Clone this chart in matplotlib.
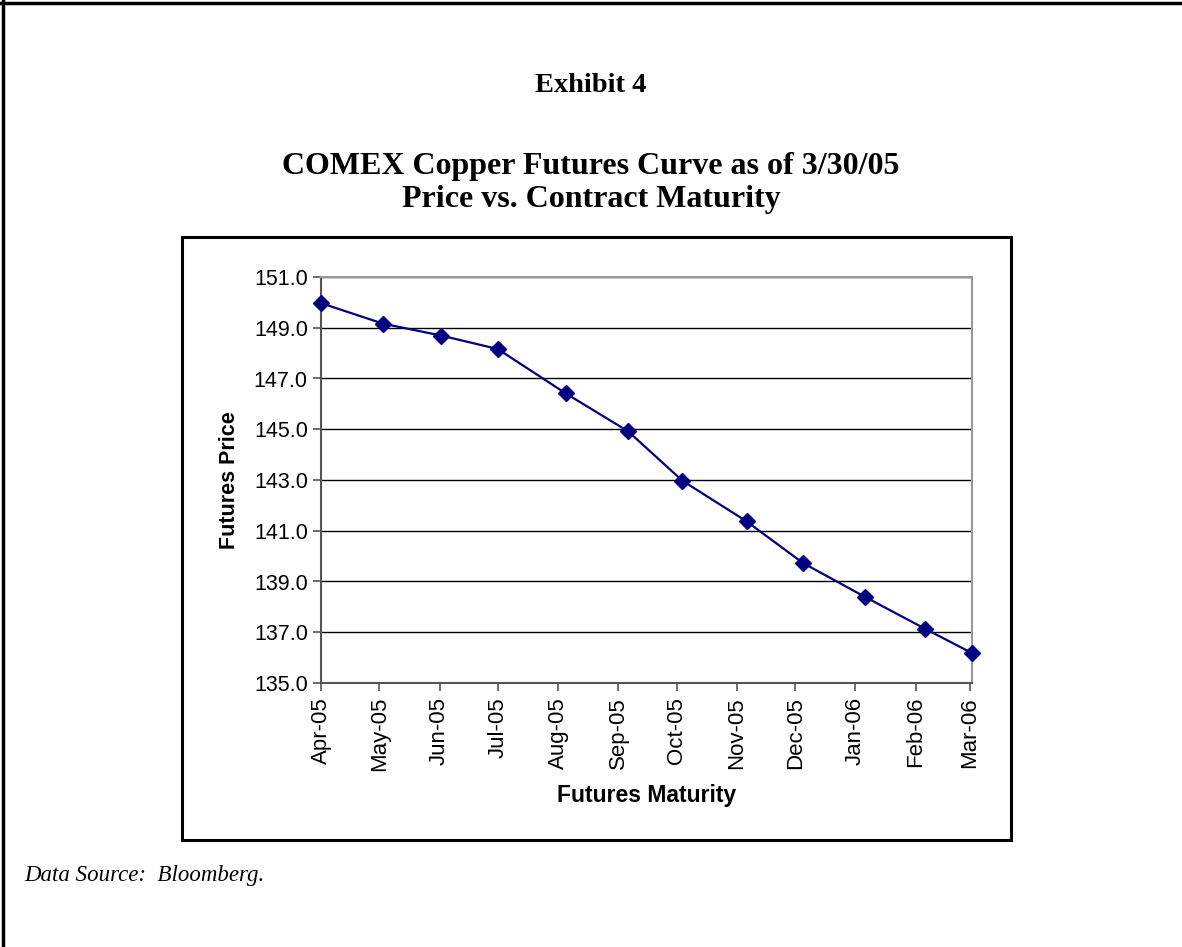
import matplotlib.pyplot as plt
import matplotlib.dates as mdates
from matplotlib.patches import Rectangle
from matplotlib.lines import Line2D
import numpy as np

# contract dates (as plotted on the date axis) and settlement prices
maturity_dates = np.array(['2005-04-01', '2005-05-03', '2005-06-02', '2005-07-01',
                           '2005-08-05', '2005-09-06', '2005-10-04', '2005-11-06',
                           '2005-12-05', '2006-01-06', '2006-02-06', '2006-03-02'],
                          dtype='datetime64[D]')
futures_price = [149.97, 149.16, 148.69, 148.16, 146.41, 144.92,
                 142.97, 141.37, 139.73, 138.39, 137.13, 136.18]
y_ticks = [135, 137, 139, 141, 143, 145, 147, 149, 151]

fig = plt.figure(figsize=(11.82, 9.47), dpi=100)

# page border (top & left only visible)
fig.add_artist(Line2D([0, 1], [1 - 3.5/947, 1 - 3.5/947], color='black', lw=2.5, transform=fig.transFigure))
fig.add_artist(Line2D([2.5/1182, 2.5/1182], [0, 1], color='black', lw=2.5, transform=fig.transFigure))

# chart box
fig.add_artist(Rectangle((182/1182, 1 - 840/947), (1011 - 182)/1182, (840 - 237)/947,
                         fill=False, edgecolor='black', lw=2.2, transform=fig.transFigure))

title_font = dict(ha='center', va='center', family='Liberation Serif', weight='bold')
fig.text(0.5, 1 - 86/947, "Exhibit 4", fontsize=20.5, **title_font)
fig.text(0.5, 1 - 166/947, "COMEX Copper Futures Curve as of 3/30/05", fontsize=23, **title_font)
fig.text(0.5, 1 - 200/947, "Price vs. Contract Maturity", fontsize=23, **title_font)
fig.text(24/1182, 1 - 875/947, "Data Source:  Bloomberg.", ha='left', va='center',
         family='Liberation Serif', style='italic', fontsize=16.5)

ax = fig.add_axes([321/1182, 1 - 683/947, 651/1182, 406/947])
ax.plot(maturity_dates, futures_price, color='#000080', lw=1.6, marker='D',
        markersize=8.5, markerfacecolor='#000080', markeredgecolor='#000080', zorder=3,
        clip_on=False)

ax.set_ylim(135, 151)
ax.set_yticks(y_ticks)
ax.set_yticklabels([f"{v:.1f}" for v in y_ticks])
ax.set_xlim(maturity_dates[0], maturity_dates[-1])
ax.xaxis.set_major_locator(mdates.MonthLocator(bymonthday=1))
ax.xaxis.set_major_formatter(mdates.DateFormatter('%b-%y'))

ax.yaxis.grid(True, color='black', lw=1.0)
ax.set_axisbelow(True)
for s in ['top', 'right']:
    ax.spines[s].set_color('#999999')
    ax.spines[s].set_linewidth(1.5)
for s in ['left', 'bottom']:
    ax.spines[s].set_color('#555555')
    ax.spines[s].set_linewidth(1.5)

ax.tick_params(axis='both', direction='out', length=6, width=1.2, color='#555555',
               labelcolor='black')
ax.tick_params(axis='y', labelsize=15.5)
ax.tick_params(axis='x', labelsize=16, pad=4)
for lbl in ax.get_xticklabels():
    lbl.set_rotation(90)
    lbl.set_family('Liberation Sans')
for lbl in ax.get_yticklabels():
    lbl.set_family('Liberation Sans')

ax.set_xlabel("Futures Maturity", family='Liberation Sans', weight='bold', fontsize=16.5, labelpad=9)
ax.set_ylabel("Futures Price", family='Liberation Sans', weight='bold', fontsize=15.5, labelpad=10)

fig.savefig("out.png", dpi=100)
